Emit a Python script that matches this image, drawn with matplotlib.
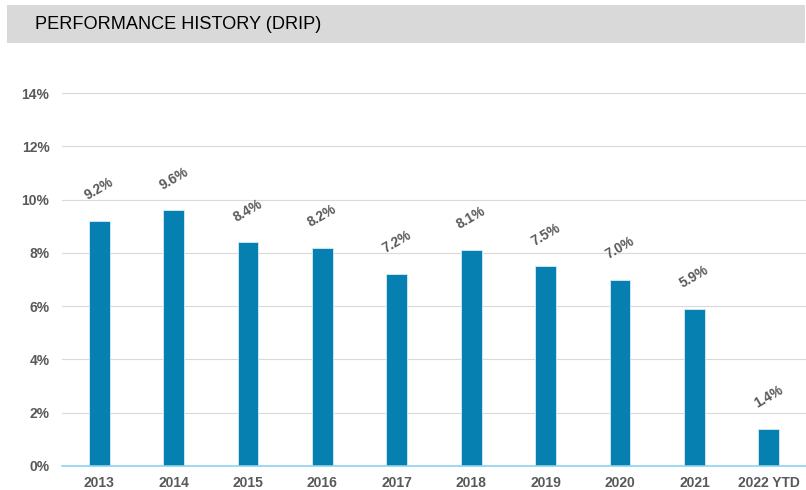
import matplotlib.pyplot as plt
from matplotlib import font_manager
from matplotlib.patches import Rectangle
from matplotlib.ticker import FuncFormatter

years = ["2013", "2014", "2015", "2016", "2017", "2018", "2019", "2020", "2021", "2022 YTD"]
returns = [9.2, 9.6, 8.4, 8.2, 7.2, 8.1, 7.5, 7.0, 5.9, 1.4]
yticks = [0, 2, 4, 6, 8, 10, 12, 14]

# pick regular (not narrow) Liberation Sans files
reg_path, bold_path = None, None
for f in font_manager.fontManager.ttflist:
    if f.name == 'Liberation Sans' and 'Narrow' not in f.fname and f.style == 'normal':
        if f.weight in (700, 'bold'):
            bold_path = f.fname
        elif f.weight in (400, 'normal', 'regular'):
            reg_path = f.fname

plt.rcParams['font.family'] = ['Liberation Sans', 'DejaVu Sans']
gray_txt = '#595959'


def bold(size):
    if bold_path:
        return font_manager.FontProperties(fname=bold_path, size=size)
    return font_manager.FontProperties(family='DejaVu Sans', weight='bold', size=size)


reg_fp = font_manager.FontProperties(fname=reg_path, size=13.1) if reg_path else \
    font_manager.FontProperties(family='DejaVu Sans', size=13)

fig = plt.figure(figsize=(8.06, 4.90), dpi=100)

# title band
fig.patches.append(Rectangle((0.0087, 0.912), 0.99, 0.077, transform=fig.transFigure,
                             facecolor='#D9D9D9', edgecolor='none', zorder=0))
fig.text(0.0434, 0.951, "PERFORMANCE HISTORY (DRIP)", fontproperties=reg_fp, color='black',
         va='center', ha='left')

ax = fig.add_axes([0.0769, 0.049, 0.9231, 0.761])
x = range(len(years))
ax.bar(x, returns, width=0.28, color='#0580B0', edgecolor='#D6ECF5', linewidth=0.6, zorder=3)

for xi, v in zip(x, returns):
    ax.text(xi, v + 1.2, f"{v:.1f}%", rotation=30, ha='center', va='center',
            fontproperties=bold(9.8), color=gray_txt, rotation_mode='anchor')

ax.set_xlim(-0.5, len(years) - 0.5)
ax.set_ylim(0, 14)
ax.set_yticks(yticks)
ax.yaxis.set_major_formatter(FuncFormatter(lambda v, p: f"{v:.0f}%"))
ax.set_xticks(list(x))
ax.set_xticklabels(years)
ax.grid(axis='y', color='#D9D9D9', linewidth=0.8, zorder=0)
ax.tick_params(axis='both', length=0, labelcolor=gray_txt)
ax.tick_params(axis='y', pad=9)
ax.tick_params(axis='x', pad=7.5)
for lbl in ax.get_xticklabels() + ax.get_yticklabels():
    lbl.set_fontproperties(bold(10))
for s in ['top', 'right', 'left']:
    ax.spines[s].set_visible(False)
ax.spines['bottom'].set_color('#8ED3F0')
ax.spines['bottom'].set_linewidth(1.2)
ax.spines['bottom'].set_zorder(4)

fig.savefig("out.png", dpi=100)
